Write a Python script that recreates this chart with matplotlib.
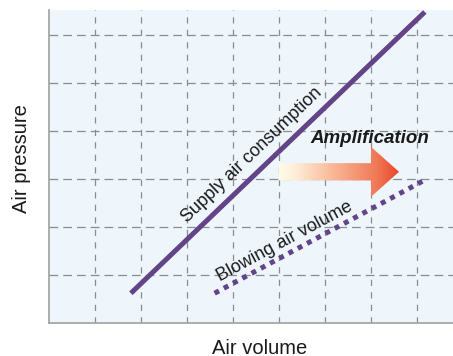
import numpy as np
import matplotlib
matplotlib.use("Agg")
import matplotlib.pyplot as plt
from matplotlib.patches import Polygon
from matplotlib.colors import LinearSegmentedColormap

# ── Data ───────────────────────────────────────────────────────────
supply_x = [1.78, 8.17]
supply_y = [0.62, 6.48]
blowing_x = [3.6, 8.17]
blowing_y = [0.62, 2.98]

x_grid = [1, 2, 3, 4, 5, 6, 7, 8]
y_grid = [1, 2, 3, 4, 5, 6]

# arrow: body start, head base, tip (x) / centre, body and head half heights (y)
arrow_x = [5.0, 7.0, 7.61]
arrow_y = [3.15, 0.18, 0.52]

# ── Colours ────────────────────────────────────────────────────────
C_LINE = "#634489"
C_GRID = "#8c8c8c"
C_BG = "#eef6fc"
C_SPINE = "#a0a0a0"

plt.rcParams["font.family"] = ["Liberation Sans", "DejaVu Sans"]

fig = plt.figure(figsize=(4.53, 3.56), dpi=100)
ax = fig.add_axes([49 / 453, 33 / 356, 1 - 49 / 453, 313 / 356])
ax.set_xlim(0, 404 / 46)
ax.set_ylim(0, 313 / 48)
ax.set_facecolor(C_BG)

for s in ("top", "right"):
    ax.spines[s].set_visible(False)
for s in ("left", "bottom"):
    ax.spines[s].set_color(C_SPINE)
    ax.spines[s].set_linewidth(1.2)
ax.set_xticks([])
ax.set_yticks([])

for gx in x_grid:
    ax.axvline(gx, color=C_GRID, lw=0.9, ls=(0, (5, 5)), zorder=1)
for gy in y_grid:
    ax.axhline(gy, color=C_GRID, lw=0.9, ls=(0, (7, 4)), zorder=1)

# ── Lines ──────────────────────────────────────────────────────────
ax.plot(supply_x, supply_y, color=C_LINE, lw=3.6, solid_capstyle="butt", zorder=3)
ax.plot(blowing_x, blowing_y, color=C_LINE, lw=3.6, ls=(0, (1, 1.1)),
        dash_capstyle="butt", zorder=3)

# ── Gradient arrow ─────────────────────────────────────────────────
x0, xh, xt = arrow_x
yc, hb, hh = arrow_y
verts = [(x0, yc - hb), (xh, yc - hb), (xh, yc - hh), (xt, yc),
         (xh, yc + hh), (xh, yc + hb), (x0, yc + hb)]
arrow = Polygon(verts, closed=True, facecolor="none", edgecolor="none")
ax.add_patch(arrow)
cmap = LinearSegmentedColormap.from_list(
    "amp", [(0, "#fffbe6"), (0.12, "#fdf0dc"), (0.45, "#f9b797"),
            (0.8, "#f07a58"), (1, "#e8452a")])
grad = np.linspace(0, 1, 256).reshape(1, -1)
im = ax.imshow(grad, cmap=cmap, aspect="auto",
               extent=[x0, xt, yc - hh, yc + hh], zorder=2)
im.set_clip_path(arrow)
ax.set_xlim(0, 404 / 46)
ax.set_ylim(0, 313 / 48)


def screen_angle(xs, ys):
    p = ax.transData.transform(np.column_stack([xs, ys]))
    d = p[1] - p[0]
    return np.degrees(np.arctan2(d[1], d[0]))


ax.text(4.41, 3.5, "Supply air consumption", fontsize=13,
        rotation=screen_angle(supply_x, supply_y), rotation_mode="anchor",
        ha="center", va="center", color="#1a1a1a", zorder=4)
ax.text(5.13, 1.7, "Blowing air volume", fontsize=13,
        rotation=screen_angle(blowing_x, blowing_y), rotation_mode="anchor",
        ha="center", va="center", color="#1a1a1a", zorder=4)
ax.text(6.98, 3.85, "Amplification", fontsize=13.5, fontweight="bold",
        fontstyle="italic", ha="center", va="center", color="#1a1a1a", zorder=4)

fig.text(22 / 453, 1 - 159 / 356, "Air pressure", rotation=90, fontsize=14.5,
         ha="center", va="center", color="#1a1a1a")
fig.text(260 / 453, 1 - 348 / 356, "Air volume", fontsize=14.5,
         ha="center", va="center", color="#1a1a1a")

fig.savefig("out.png", dpi=100)
